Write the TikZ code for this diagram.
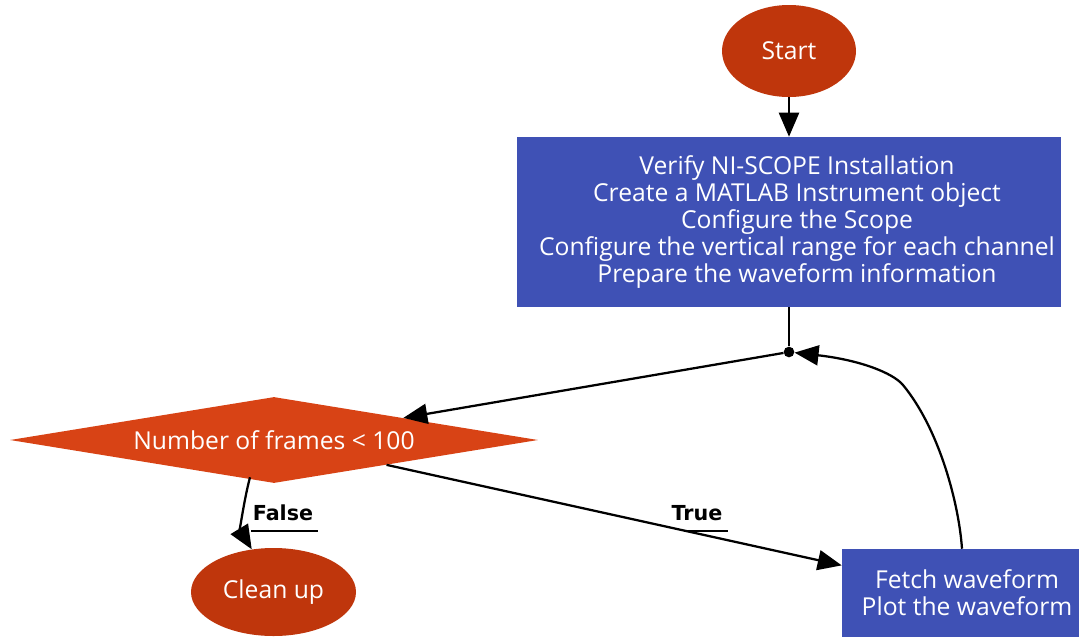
\documentclass[tikz,border=0pt]{standalone}
\usepackage{fontspec}
\setmainfont{Open Sans}
\newfontfamily\lblfont{DejaVu Sans}
\usetikzlibrary{shapes.geometric,arrows.meta,calc}
\definecolor{ellred}{HTML}{BF360C}
\definecolor{diaor}{HTML}{D84315}
\definecolor{boxblue}{HTML}{3F51B5}
\begin{document}
\begin{tikzpicture}[x=0.75pt,y=-0.75pt,
  txt/.style={text=white,font=\fontsize{18.5}{20.25}\selectfont,align=center,inner sep=0pt},
  term/.style={txt,ellipse,fill=ellred},
  proc/.style={txt,rectangle,fill=boxblue},
  dec/.style={txt,diamond,fill=diaor,shape aspect=6},
  conn/.style={line width=1.7pt,black},
  arr/.style={conn,-{Triangle[length=18pt,width=15pt]}},
  uline/.style={line width=1.4pt,black},
  elab/.style={font=\lblfont\bfseries\fontsize{15.5}{18}\selectfont,inner sep=0pt}]
\clip (0,0) rectangle (1079,637);
% nodes
\node[term,minimum width=100.5pt,minimum height=69pt] (start) at (789,51) {Start};
\node[proc,minimum width=408pt,minimum height=127.5pt] (init) at (789,222) {};
\node[txt] (inittext) at (797,222) {Verify NI-SCOPE Installation\\Create a MATLAB Instrument object\\Configure the Scope\\Configure the vertical range for each channel\\Prepare the waveform information};
\node[circle,fill=black,inner sep=0pt,minimum size=8pt] (dot) at (789,352) {};
\node[dec,minimum width=396pt,minimum height=64.5pt] (cond) at (274,440) {Number of frames < 100};
\node[term,minimum width=123.75pt,minimum height=66pt] (clean) at (273.5,592) {Clean up};
\node[proc,minimum width=187.5pt,minimum height=66pt] (fetch) at (967,593) {Fetch waveform\\Plot the waveform};
% edges
\draw[arr] (start) -- (init);
\draw[conn] (init) -- (dot);
\draw[arr] (dot) -- (cond);
\draw[arr] (cond) -- (fetch);
\draw[arr] ($(cond.south)+(-24,-6)$) .. controls (244,500) and (240,530) .. (clean.117);
\draw[arr] ($(fetch.north)+(-5,0)$) .. controls (959,505) and (940,430) .. (903,385) .. controls (893,373) and (860,360) .. (dot);
% labels
\node[elab] (tlab) at (697,513) {True};
\coordinate (tu) at (684,531);
\draw[uline] (tu) -- (728,531);
\node[elab] (flab) at (283,513) {False};
\coordinate (fu) at (251,531);
\draw[uline] (fu) -- (318,531);
\end{tikzpicture}
\end{document}
